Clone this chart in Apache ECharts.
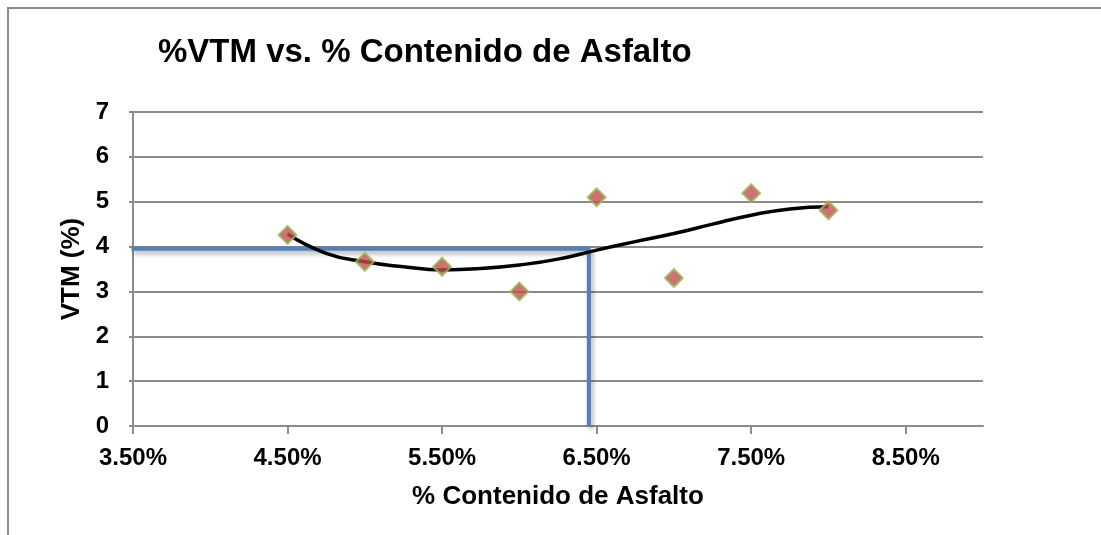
<!DOCTYPE html>
<html>
<head>
<meta charset="utf-8">
<script src="https://cdn.jsdelivr.net/npm/echarts@6/dist/echarts.min.js"></script>
<style>
html,body{margin:0;padding:0;background:#fff;}
#chart{width:1101px;height:535px;}
</style>
</head>
<body>
<div id="chart"></div>
<script>
const titleText = '%VTM vs. % Contenido de Asfalto';
const xAxisTitle = '% Contenido de Asfalto';
const yAxisTitle = 'VTM (%)';
const xTickValues = [3.5, 4.5, 5.5, 6.5, 7.5, 8.5];
const asphalt = [4.5, 5.0, 5.5, 6.0, 6.5, 7.0, 7.5, 8.0];
const vtm = [4.26, 3.66, 3.55, 3.0, 5.1, 3.3, 5.19, 4.81];
const trendX = [4.5, 4.75, 5.0, 5.25, 5.5, 5.75, 6.0, 6.25, 6.5, 6.75, 7.0, 7.25, 7.5, 7.75, 8.0];
const trendY = [4.28, 3.85, 3.66, 3.55, 3.48, 3.51, 3.59, 3.72, 3.92, 4.11, 4.29, 4.5, 4.70, 4.84, 4.89];
const designX = [3.49, 6.45, 6.45];
const designY = [3.95, 3.95, 0];

const FONT = '"Liberation Sans", Arial, sans-serif';
const GRAY = '#8c8c8c';

const chart = echarts.init(document.getElementById('chart'), null, {renderer: 'canvas'});
chart.setOption({
  backgroundColor: '#ffffff',
  animation: false,
  title: {
    text: titleText,
    left: 158, top: 36, padding: 0,
    textStyle: {fontFamily: FONT, fontWeight: 'bold', fontSize: 33, color: '#000'}
  },
  graphic: [{
    type: 'rect', silent: true, z: -1,
    shape: {x: 8, y: 8, width: 1200, height: 600},
    style: {fill: 'none', stroke: GRAY, lineWidth: 2}
  }],
  grid: {left: 133, right: 118, top: 112, bottom: 109},
  xAxis: {
    type: 'value', min: 3.5, max: 9,
    name: xAxisTitle, nameLocation: 'middle', nameGap: 58,
    nameTextStyle: {fontFamily: FONT, fontWeight: 'bold', fontSize: 26, color: '#000'},
    axisLine: {show: true, onZero: false, lineStyle: {color: GRAY, width: 2}},
    axisTick: {show: true, length: 8, customValues: xTickValues, lineStyle: {color: GRAY, width: 2}},
    axisLabel: {customValues: xTickValues, margin: 20, fontFamily: FONT, fontWeight: 'bold', fontSize: 24, color: '#000',
      formatter: v => v.toFixed(2) + '%'},
    splitLine: {show: false}
  },
  yAxis: {
    type: 'value', min: 0, max: 7, interval: 1,
    name: yAxisTitle, nameLocation: 'middle', nameGap: 47, nameRotate: 90,
    nameTextStyle: {fontFamily: FONT, fontWeight: 'bold', fontSize: 26, color: '#000'},
    axisLine: {show: true, lineStyle: {color: GRAY, width: 2}},
    axisTick: {show: true, length: 4, lineStyle: {color: GRAY, width: 2}},
    axisLabel: {margin: 24, fontFamily: FONT, fontWeight: 'bold', fontSize: 24, color: '#000'},
    splitLine: {show: true, lineStyle: {color: GRAY, width: 2}}
  },
  series: [
    {
      type: 'line', name: 'diseño', data: designX.map((x, i) => [x, designY[i]]),
      symbol: 'none', clip: false, z: 3,
      lineStyle: {color: '#4F81BD', width: 4, shadowColor: 'rgba(0,0,0,0.35)', shadowBlur: 5, shadowOffsetX: 2, shadowOffsetY: 3}
    },
    {
      type: 'line', name: 'tendencia', data: trendX.map((x, i) => [x, trendY[i]]),
      symbol: 'none', smooth: true, z: 4,
      lineStyle: {color: '#000', width: 3.5}
    },
    {
      type: 'scatter', name: 'VTM', data: asphalt.map((x, i) => [x, vtm[i]]),
      symbol: 'diamond', symbolSize: 18, z: 5,
      itemStyle: {color: '#C0504D', borderColor: '#9BBB59', borderWidth: 2}
    }
  ]
});
</script>
</body>
</html>
